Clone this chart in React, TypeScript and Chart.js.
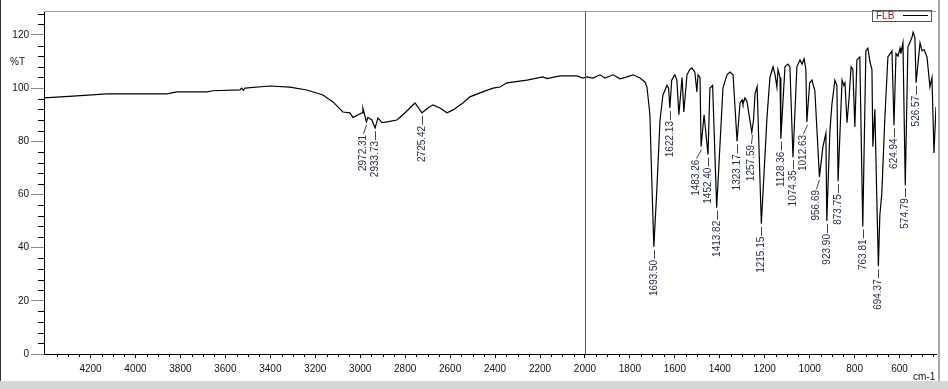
import React, { useEffect, useRef } from "react";
import { Chart, registerables } from "chart.js";

Chart.register(...registerables);

// ---- data (wavenumber cm-1, %T) ----
const wavenumbers = [
  4407, 4278, 4127, 3980, 3860, 3816, 3682, 3655, 3535, 3528, 3520, 3513, 3402, 3313, 3237, 3166,
  3121, 3077, 3046, 3032, 2992, 2988, 2972.31, 2966, 2948, 2933.73, 2921, 2903, 2881, 2837, 2810,
  2779, 2756, 2725.42, 2699, 2676, 2645, 2614, 2587, 2543, 2512, 2467, 2409, 2378, 2347, 2258,
  2187, 2169, 2111, 2036, 2009, 1991, 1964, 1933, 1911, 1875, 1844, 1813, 1786, 1755, 1733, 1724,
  1711, 1706, 1693.5, 1680, 1666, 1653, 1635, 1628, 1622.13, 1614, 1604, 1600, 1591, 1582, 1568,
  1560, 1546, 1533, 1524, 1511, 1502, 1497, 1488, 1483.26, 1470, 1452.4, 1444, 1432, 1413.82,
  1386, 1368, 1355, 1341, 1323.17, 1310, 1301, 1297, 1288, 1279, 1270, 1257.59, 1250, 1243, 1234,
  1215.15, 1190, 1177, 1163, 1154, 1146, 1141, 1132, 1128.36, 1110, 1097, 1088, 1074.35, 1057,
  1043, 1034, 1025, 1017, 1012.63, 1000, 990, 977, 956.69, 941, 928, 923.9, 910, 901, 888, 879,
  873.75, 856, 848, 843, 834, 825, 816, 808, 799, 790, 777, 763.81, 750, 741, 732, 723, 719, 710,
  701, 694.37, 688, 679, 666, 652, 634, 624.94, 616, 607, 598, 594, 585, 574.79, 563, 545, 540,
  532, 526.57, 509, 500, 491, 478, 465, 456, 447, 438,
];
const transmittance = [
  96.3, 97.0, 97.8, 97.8, 97.8, 98.6, 98.6, 99.0, 99.3, 100.0, 99.2, 100.0, 100.8, 100.4, 99.3, 97.4,
  94.8, 91.0, 90.7, 89.0, 90.7, 92.5, 87.3, 89.0, 88.0, 85.0, 88.8, 87.0, 87.3, 88.0, 90.0,
  92.5, 94.4, 90.7, 92.5, 93.7, 92.5, 90.7, 91.8, 94.4, 96.7, 98.2, 100.0, 100.4, 102.0, 103.0,
  104.2, 103.6, 104.6, 104.6, 103.8, 104.2, 103.8, 105.0, 103.8, 105.0, 103.5, 104.2, 105.0, 103.8, 102.3, 100.4,
  90, 75, 40.3, 62, 88, 97.4, 101, 100, 92.5, 103, 104.5, 105, 103, 90, 104,
  91, 105, 107, 107.6, 106, 98.6, 105, 104, 78, 90, 75, 100, 101, 55,
  100, 105, 106, 105, 80, 94.4, 95.5, 94, 96.3, 95, 90, 83.5, 88, 98, 100.5,
  49, 89, 104, 108, 105, 100.4, 107, 104, 81, 108, 109, 108, 74, 108,
  110.6, 109, 111, 107, 87.3, 102, 103, 99, 66.6, 78, 83, 50, 84, 94, 103, 101,
  65, 103, 101, 102, 87, 96, 108, 107, 85.4, 110.6, 111.7, 48, 114, 115, 110, 107, 78, 92,
  57, 33, 52, 60.5, 88, 111.7, 114, 86, 113, 112, 115, 113, 117, 63.5, 115.5, 119, 121,
  119, 102, 117, 114, 114.5, 111.7, 100.4, 104, 75.6, 93,
];

const peakWavenumbers = [
  2972.31, 2933.73, 2725.42, 1693.5, 1622.13, 1483.26, 1452.4, 1413.82, 1323.17, 1257.59,
  1215.15, 1128.36, 1074.35, 1012.63, 956.69, 923.9, 873.75, 763.81, 694.37, 624.94, 574.79, 526.57,
];
const peakLabels = [
  "2972.31", "2933.73", "2725.42", "1693.50", "1622.13", "1483.26", "1452.40", "1413.82", "1323.17", "1257.59",
  "1215.15", "1128.36", "1074.35", "1012.63", "956.69", "923.90", "873.75", "763.81", "694.37", "624.94", "574.79", "526.57",
];

const xTickValues = [4200, 4000, 3800, 3600, 3400, 3200, 3000, 2800, 2600, 2400, 2200, 2000, 1800, 1600, 1400, 1200, 1000, 800, 600];
const yTickValues = [0, 20, 40, 60, 80, 100, 120];
const seriesName = "FLB";
const xUnit = "cm-1";
const yUnit = "%T";
const dividerAt = 2000;

// label text horizontal nudges (style only)
const labelNudge: Record<string, number> = {
  "2972.31": -3, "1483.26": -5, "1012.63": -4, "956.69": -3, "1257.59": -1,
};

const FONT = "'Liberation Sans', Arial, sans-serif";

export default function App() {
  const ref = useRef<HTMLCanvasElement | null>(null);

  useEffect(() => {
    document.body.style.margin = "0";
    const canvas = ref.current;
    if (!canvas) return;

    const chrome = {
      id: "chrome",
      beforeDraw(chart: any) {
        const ctx = chart.ctx;
        ctx.save();
        ctx.fillStyle = "#ffffff";
        ctx.fillRect(0, 0, chart.width, chart.height);
        ctx.restore();
      },
      afterDraw(chart: any) {
        const ctx = chart.ctx as CanvasRenderingContext2D;
        const xs = chart.scales.x;
        const ys = chart.scales.y;
        const ca = chart.chartArea;
        ctx.save();

        // top frame line
        ctx.strokeStyle = "#9a9a9a";
        ctx.lineWidth = 1;
        ctx.beginPath();
        ctx.moveTo(ca.left, Math.round(ca.top) + 0.5);
        ctx.lineTo(ca.right, Math.round(ca.top) + 0.5);
        ctx.stroke();

        // divider at 2000
        const dx = Math.round(xs.getPixelForValue(dividerAt)) + 0.5;
        ctx.strokeStyle = "#555";
        ctx.beginPath();
        ctx.moveTo(dx, ca.top);
        ctx.lineTo(dx, ca.bottom);
        ctx.stroke();

        // minor y ticks
        ctx.strokeStyle = "#000";
        ctx.beginPath();
        for (let v = 4; v <= 128; v += 4) {
          if (v % 20 === 0 && v <= 120) continue;
          const py = Math.round(ys.getPixelForValue(v)) + 0.5;
          ctx.moveTo(ca.left - 6, py);
          ctx.lineTo(ca.left, py);
        }
        ctx.stroke();

        // minor x ticks
        ctx.beginPath();
        for (let v = 450; v <= 4400; v += 50) {
          if (v % 200 === 0) continue;
          const px = Math.round(xs.getPixelForValue(v)) + 0.5;
          ctx.moveTo(px, ca.bottom);
          ctx.lineTo(px, ca.bottom + 3);
        }
        ctx.stroke();

        // window chrome
        ctx.fillStyle = "#a8a8a8";
        ctx.fillRect(938, 0, 2, 381);
        ctx.fillStyle = "#d6d6d6";
        ctx.fillRect(0, 381, chart.width, chart.height - 381);
        ctx.fillStyle = "#333";
        ctx.fillRect(0, 0, 1, 381);

        // axis unit texts
        ctx.fillStyle = "#111";
        ctx.font = `10px ${FONT}`;
        ctx.textBaseline = "middle";
        ctx.textAlign = "left";
        ctx.fillText(yUnit, 10, 62);
        ctx.fillText(xUnit, 913, 377);

        // legend
        ctx.strokeStyle = "#555";
        ctx.lineWidth = 1;
        ctx.strokeRect(872.5, 10.5, 59, 11);
        ctx.fillStyle = "#8b1a1a";
        ctx.font = `10px ${FONT}`;
        ctx.fillText(seriesName, 876, 16);
        ctx.strokeStyle = "#000";
        ctx.beginPath();
        ctx.moveTo(903, 15.5);
        ctx.lineTo(928, 15.5);
        ctx.stroke();

        // peak labels
        ctx.font = `10px ${FONT}`;
        for (let i = 0; i < peakWavenumbers.length; i++) {
          const wn = peakWavenumbers[i];
          const idx = wavenumbers.indexOf(wn);
          const t = transmittance[idx];
          const px = Math.round(xs.getPixelForValue(wn)) + 0.5;
          const py = ys.getPixelForValue(t);
          const nudge = labelNudge[peakLabels[i]] || 0;
          ctx.strokeStyle = "#444";
          ctx.beginPath();
          ctx.moveTo(px, py + 3);
          ctx.lineTo(px + nudge, py + 12);
          ctx.stroke();
          ctx.save();
          ctx.translate(px + nudge, py + 13);
          ctx.rotate(-Math.PI / 2);
          ctx.fillStyle = "#1f2a48";
          ctx.textAlign = "right";
          ctx.textBaseline = "middle";
          ctx.fillText(peakLabels[i], 0, 0);
          ctx.restore();
        }
        ctx.restore();
      },
    };

    const points = wavenumbers.map((w, i) => ({ x: w, y: transmittance[i] }));

    const chart = new Chart(canvas, {
      type: "line",
      data: {
        datasets: [
          {
            label: seriesName,
            data: points,
            borderColor: "#000",
            borderWidth: 1.2,
            pointRadius: 0,
            tension: 0,
            fill: false,
          },
        ],
      },
      options: {
        responsive: false,
        devicePixelRatio: 1,
        animation: false,
        layout: { padding: { left: 0, right: 12, top: 11, bottom: 0 } },
        plugins: { legend: { display: false }, tooltip: { enabled: false } },
        scales: {
          x: {
            type: "linear",
            reverse: true,
            min: 438,
            max: 4407,
            afterBuildTicks: (s: any) => {
              s.ticks = xTickValues.map((v) => ({ value: v }));
            },
            afterFit: (s: any) => {
              s.height = 35;
            },
            grid: { display: true, drawOnChartArea: false, drawTicks: true, tickLength: 4, color: "#000" },
            border: { display: true, color: "#000" },
            ticks: {
              autoSkip: false,
              maxRotation: 0,
              padding: 5,
              color: "#111",
              font: { family: FONT, size: 10 },
              callback: (v: any) => String(v),
            },
          },
          y: {
            min: 0,
            max: 129,
            afterBuildTicks: (s: any) => {
              s.ticks = yTickValues.map((v) => ({ value: v }));
            },
            afterFit: (s: any) => {
              s.width = 44;
            },
            grid: { display: true, drawOnChartArea: false, drawTicks: true, tickLength: 13, color: "#8a8a8a" },
            border: { display: true, color: "#000" },
            ticks: {
              padding: 2,
              color: "#111",
              font: { family: FONT, size: 10 },
              callback: (v: any) => String(v),
            },
          },
        },
      },
      plugins: [chrome],
    } as any);

    return () => chart.destroy();
  }, []);

  return (
    <div style={{ width: 948, height: 389 }}>
      <canvas ref={ref} width={948} height={389} style={{ display: "block" }} />
    </div>
  );
}
